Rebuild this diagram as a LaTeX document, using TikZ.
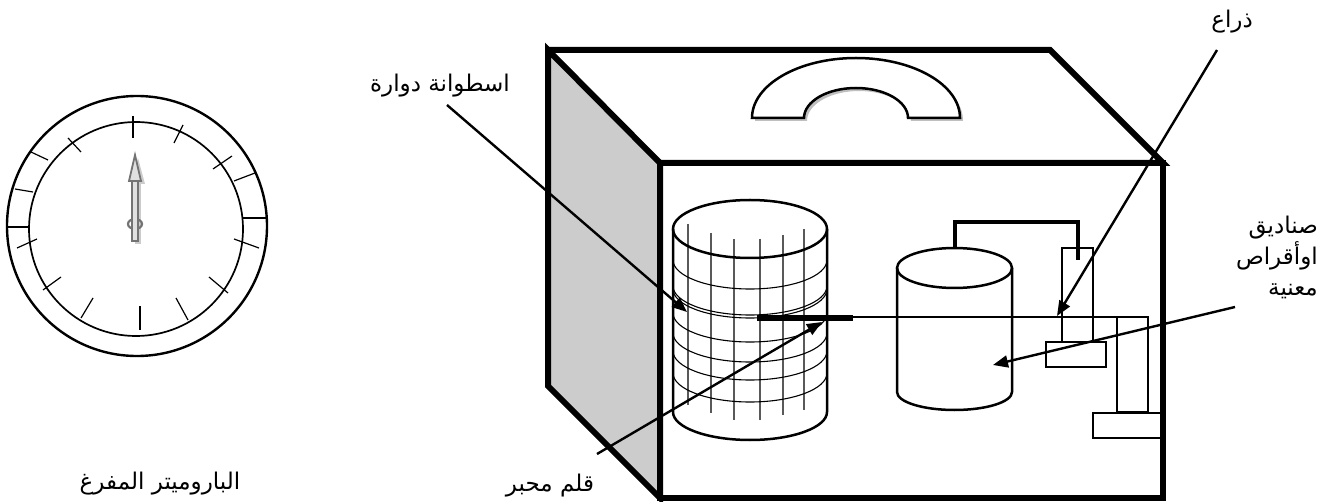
\documentclass[tikz,border=0pt]{standalone}
\usepackage{fontspec}
\newfontfamily\arabicfont[Script=Arabic]{DejaVu Sans}
\TeXXeTstate=1
\usetikzlibrary{arrows.meta}

\begin{document}
\begin{tikzpicture}[x=1pt,y=-1pt,
  boxedge/.style={line width=6pt, line join=miter},
  part/.style={line width=2.5pt, line join=miter},
  gridline/.style={line width=1.1pt, draw=black!65},
  drumcurve/.style={line width=1.1pt},
  tick/.style={line width=1.2pt},
  pointer/.style={line width=2.4pt, -{Triangle[length=15pt,width=12pt]}},
  lbl/.style={font=\arabicfont\fontsize{23}{31}\selectfont, inner sep=0pt},
]
\useasboundingbox (0,0) rectangle (1333,502);

% ---------- aneroid barometer dial ----------
\draw[line width=2.4pt] (137,226) circle[radius=130];
\draw[line width=1.7pt] (136,229) circle[radius=107];
\foreach \a/\b in {
  {(133,116)}/{(133,138)}, {(174,143)}/{(183,125)}, {(68,138)}/{(81,152)},
  {(31,152)}/{(48,160)}, {(15,189)}/{(33,192)}, {(8,227)}/{(29,227)},
  {(17,248)}/{(37,239)}, {(43,290)}/{(61,277)}, {(81,318)}/{(93,298)},
  {(140,306)}/{(140,330)}, {(176,298)}/{(188,320)}, {(209,277)}/{(228,293)},
  {(234,239)}/{(259,248)}, {(243,218)}/{(267,218)}, {(234,181)}/{(255,173)},
  {(213,169)}/{(232,156)}}
  \draw[tick] \a -- \b;
% needle shadow
\fill[black!20] (135,184) rectangle (141,244);
\fill[black!20] (131,184) -- (138,158) -- (145,184) -- cycle;
% needle
\draw[black!55, line width=2.2pt] (135,224) ellipse[x radius=7, y radius=5];
\draw[black!55, line width=2pt, fill=black!12] (132,180) rectangle (138,241);
\draw[black!55, line width=1.8pt, fill=black!12, line join=miter]
  (129,181) -- (135,155) -- (141,181) -- cycle;

% ---------- case ----------
\fill[black!20] (548,50) -- (660,163) -- (660,498) -- (548,386) -- cycle;
\draw[boxedge] (548,50) -- (660,163) -- (660,498) -- (548,386) -- cycle;
\draw[boxedge] (548,50) -- (1050,50) -- (1163,163) -- (660,163);
\draw[boxedge] (660,163) rectangle (1163,498);

% carrying handle
\fill[black!25] (755,121) arc[start angle=180, end angle=360, x radius=104, y radius=60]
  -- (911,121) arc[start angle=360, end angle=180, x radius=52, y radius=30] -- cycle;
\draw[part, fill=white] (752,118) arc[start angle=180, end angle=360, x radius=104, y radius=60]
  -- (908,118) arc[start angle=360, end angle=180, x radius=52, y radius=30] -- cycle;

% ---------- rotating drum ----------
\fill[white] (673,229) -- (673,412) arc[start angle=180, end angle=0, x radius=77, y radius=28]
  -- (827,229) -- cycle;
\foreach \x/\t/\b in {688/224/405, 711/233/413, 734/239/420, 760/239/420, 783/235/415, 804/229/410}
  \draw[gridline] (\x,\t) -- (\x,\b);
\foreach \y in {260, 286, 289, 313, 333, 351, 373}
  \draw[drumcurve] (673,\y) arc[start angle=180, end angle=0, x radius=77, y radius=29];
\draw[part] (750,229) ellipse[x radius=77, y radius=29];
\draw[part] (673,229) -- (673,412) arc[start angle=180, end angle=0, x radius=77, y radius=28]
  -- (827,229);

% ---------- aneroid capsules ----------
\fill[white] (897,268) -- (897,392) arc[start angle=180, end angle=0, x radius=57.5, y radius=18]
  -- (1012,268) -- cycle;
\draw[part] (954.5,268) ellipse[x radius=57.5, y radius=20];
\draw[part] (897,268) -- (897,392) arc[start angle=180, end angle=0, x radius=57.5, y radius=18]
  -- (1012,268);
% link rod
\draw[line width=3.5pt, line join=miter] (955,248) -- (955,222) -- (1078,222) -- (1078,260);
% lever housing and foot
\draw[part] (1062,248) rectangle (1093,342);
\draw[part] (1046,342) rectangle (1106,367);

% pen arm and its column
\draw[line width=6pt] (757,318) -- (853,318);
\draw[part] (853,317) -- (1148,317) -- (1148,412);
\draw[part] (1117,317) -- (1117,412) -- (1148,412);
\draw[part] (1093,413) rectangle (1162,438);

% ---------- labels ----------
\node[lbl] (armlbl) at (1232,22) {\beginR ذراع\endR};
\node[lbl] (drumlbl) at (440,86) {\beginR اسطوانة دوارة\endR};
\node[lbl, align=right, anchor=north east] (capslbl) at (1318,216)
  {\beginR صناديق\endR\\ \beginR اوأقراص\endR\\ \beginR معنية\endR};
\node[lbl] (barolbl) at (160,484) {\beginR الباروميتر المفرغ\endR};
\node[lbl] (penlbl) at (550,486) {\beginR قلم محبر\endR};

% ---------- leader arrows ----------
\coordinate (armfrom) at (1217,50);
\coordinate (armtip) at (1057,316);
\coordinate (drumfrom) at (447,105);
\coordinate (drumtip) at (687,312);
\coordinate (capsfrom) at (1235,307);
\coordinate (capstip) at (993,365);
\coordinate (penfrom) at (597,454);
\coordinate (pentip) at (822,322);
\draw[pointer] (armfrom) -- (armtip);
\draw[pointer] (drumfrom) -- (drumtip);
\draw[pointer] (capsfrom) -- (capstip);
\draw[pointer] (penfrom) -- (pentip);
\end{tikzpicture}
\end{document}
